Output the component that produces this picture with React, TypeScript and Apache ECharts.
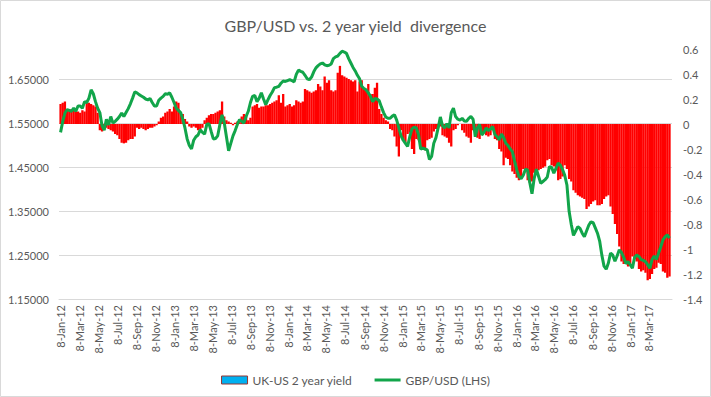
import React, { useEffect, useRef } from "react";
import * as echarts from "echarts";

// First weekly observation (8-Jan-12); one value per week after that
const firstObservation = "8-Jan-12";

const tickLabels = [
  "8-Jan-12", "8-Mar-12", "8-May-12", "8-Jul-12", "8-Sep-12", "8-Nov-12",
  "8-Jan-13", "8-Mar-13", "8-May-13", "8-Jul-13", "8-Sep-13", "8-Nov-13",
  "8-Jan-14", "8-Mar-14", "8-May-14", "8-Jul-14", "8-Sep-14", "8-Nov-14",
  "8-Jan-15", "8-Mar-15", "8-May-15", "8-Jul-15", "8-Sep-15", "8-Nov-15",
  "8-Jan-16", "8-Mar-16", "8-May-16", "8-Jul-16", "8-Sep-16", "8-Nov-16",
  "8-Jan-17", "8-Mar-17",
];

const leftTicks = [1.15, 1.25, 1.35, 1.45, 1.55, 1.65];

// UK-US 2 year yield spread (RHS), weekly
const spreadValues = [
  0.16, 0.17, 0.18, 0.11, 0.11, 0.12, 0.11, 0.10, 0.10, 0.09,
  0.11, 0.10, 0.17, 0.17, 0.16, 0.15, 0.14, 0.09, -0.05, -0.06,
  -0.02, -0.03, -0.04, -0.05, -0.06, -0.08, -0.09, -0.12, -0.15, -0.155,
  -0.15, -0.13, -0.12, -0.12, -0.10, -0.03, -0.04, -0.03, -0.04, -0.05,
  -0.04, -0.03, -0.03, -0.02, -0.01, 0.02, 0.05, 0.06, 0.09, 0.10,
  0.12, 0.10, 0.14, 0.18, 0.17, 0.09, 0.08, 0.04, 0.02, -0.02,
  -0.03, -0.02, -0.03, -0.05, -0.04, -0.03, 0.03, 0.05, 0.07, 0.08,
  0.08, 0.09, 0.10, 0.11, 0.18, 0.06, 0.03, 0.02, 0.01, -0.01,
  0.01, 0.02, 0.03, 0.06, 0.08, 0.07, 0.03, 0.05, 0.14, 0.15,
  0.16, 0.13, 0.14, 0.14, 0.15, 0.15, 0.16, 0.17, 0.18, 0.19,
  0.23, 0.17, 0.24, 0.14, 0.15, 0.16, 0.14, 0.15, 0.19, 0.18,
  0.17, 0.18, 0.28, 0.27, 0.26, 0.25, 0.26, 0.27, 0.32, 0.30,
  0.27, 0.38, 0.33, 0.35, 0.27, 0.26, 0.27, 0.41, 0.465, 0.39,
  0.38, 0.37, 0.36, 0.35, 0.34, 0.35, 0.26, 0.34, 0.35, 0.28,
  0.27, 0.32, 0.24, 0.24, 0.29, 0.33, 0.12, 0.08, 0.05, 0.03,
  0.02, -0.04, -0.05, -0.10, -0.18, -0.26, -0.05, -0.12, -0.15, -0.08,
  -0.07, -0.20, -0.24, -0.12, -0.13, -0.20, -0.19, -0.21, -0.13, -0.12,
  -0.11, -0.06, -0.04, -0.03, -0.02, -0.09, -0.10, -0.11, -0.15, -0.18,
  -0.05, -0.04, -0.01, 0.0, -0.05, -0.07, -0.10, -0.11, -0.15, -0.05,
  -0.06, -0.11, -0.12, -0.08, -0.07, -0.09, -0.10, -0.09, -0.05, -0.12,
  -0.13, -0.20, -0.22, -0.33, -0.27, -0.28, -0.33, -0.38, -0.40, -0.43,
  -0.45, -0.44, -0.36, -0.37, -0.45, -0.47, -0.46, -0.39, -0.38, -0.37,
  -0.36, -0.35, -0.34, -0.29, -0.28, -0.33, -0.34, -0.37, -0.45, -0.44,
  -0.42, -0.33, -0.36, -0.44, -0.46, -0.53, -0.55, -0.57, -0.58, -0.59,
  -0.60, -0.68, -0.66, -0.64, -0.62, -0.61, -0.65, -0.65, -0.64, -0.60,
  -0.58, -0.57, -0.66, -0.72, -0.80, -0.88, -0.98, -1.10, -1.12, -1.12,
  -1.14, -1.13, -1.06, -1.08, -1.10, -1.16, -1.18, -1.17, -1.19, -1.25,
  -1.24, -1.20, -1.16, -1.15, -1.11, -1.12, -1.18, -1.19, -1.23, -1.22,
];

// GBP/USD (LHS), weekly
const gbpusdValues = [
  1.530, 1.555, 1.574, 1.582, 1.580, 1.578, 1.585, 1.578, 1.590, 1.590,
  1.585, 1.600, 1.598, 1.608, 1.627, 1.618, 1.600, 1.585, 1.575, 1.545,
  1.535, 1.560, 1.547, 1.566, 1.551, 1.555, 1.560, 1.566, 1.574, 1.566,
  1.575, 1.584, 1.595, 1.608, 1.622, 1.620, 1.616, 1.613, 1.610, 1.606,
  1.604, 1.607, 1.598, 1.590, 1.590, 1.603, 1.608, 1.612, 1.618, 1.617,
  1.620, 1.610, 1.598, 1.585, 1.580, 1.575, 1.560, 1.540, 1.515, 1.500,
  1.492, 1.512, 1.520, 1.524, 1.536, 1.530, 1.526, 1.548, 1.550, 1.532,
  1.515, 1.516, 1.522, 1.548, 1.570, 1.552, 1.520, 1.488, 1.505, 1.522,
  1.534, 1.548, 1.559, 1.555, 1.551, 1.566, 1.578, 1.598, 1.612, 1.614,
  1.600, 1.608, 1.620, 1.606, 1.593, 1.604, 1.614, 1.622, 1.632, 1.633,
  1.635, 1.642, 1.647, 1.646, 1.648, 1.650, 1.648, 1.645, 1.662, 1.672,
  1.669, 1.667, 1.660, 1.652, 1.650, 1.656, 1.668, 1.677, 1.682, 1.686,
  1.688, 1.684, 1.682, 1.683, 1.686, 1.698, 1.702, 1.704, 1.710, 1.715,
  1.713, 1.710, 1.698, 1.688, 1.678, 1.670, 1.660, 1.652, 1.635, 1.630,
  1.627, 1.620, 1.612, 1.600, 1.607, 1.606, 1.602, 1.588, 1.575, 1.565,
  1.562, 1.562, 1.567, 1.570, 1.558, 1.540, 1.522, 1.512, 1.505, 1.498,
  1.520, 1.538, 1.542, 1.540, 1.525, 1.492, 1.494, 1.492, 1.490, 1.468,
  1.475, 1.505, 1.518, 1.540, 1.565, 1.545, 1.540, 1.550, 1.540, 1.575,
  1.585, 1.566, 1.560, 1.558, 1.562, 1.556, 1.555, 1.562, 1.566, 1.560,
  1.520, 1.540, 1.548, 1.524, 1.530, 1.540, 1.534, 1.538, 1.543, 1.525,
  1.520, 1.513, 1.526, 1.518, 1.505, 1.500, 1.492, 1.486, 1.465, 1.445,
  1.430, 1.424, 1.432, 1.446, 1.444, 1.415, 1.390, 1.425, 1.446, 1.430,
  1.414, 1.418, 1.422, 1.428, 1.452, 1.450, 1.437, 1.448, 1.460, 1.455,
  1.445, 1.432, 1.410, 1.350, 1.320, 1.295, 1.305, 1.315, 1.311, 1.300,
  1.292, 1.305, 1.318, 1.326, 1.324, 1.312, 1.300, 1.282, 1.250, 1.225,
  1.218, 1.232, 1.255, 1.250, 1.236, 1.248, 1.262, 1.256, 1.245, 1.231,
  1.235, 1.228, 1.220, 1.245, 1.250, 1.247, 1.240, 1.238, 1.235, 1.228,
  1.220, 1.240, 1.248, 1.240, 1.255, 1.269, 1.285, 1.292, 1.296, 1.289,
];

const MONTHS = ["Jan", "Feb", "Mar", "Apr", "May", "Jun", "Jul", "Aug", "Sep", "Oct", "Nov", "Dec"];
const DAY = 86400000;

function parseLabel(s: string): number {
  const [d, m, y] = s.split("-");
  return Date.UTC(2000 + Number(y), MONTHS.indexOf(m), Number(d)) / DAY;
}

const FONT = "Lato, 'Open Sans', sans-serif";
const TEXT = "#595959";
const GREEN = "#12A54A";

export default function App() {
  const ref = useRef<HTMLDivElement>(null);

  useEffect(() => {
    if (!ref.current) return;
    const chart = echarts.init(ref.current, undefined, { renderer: "svg" });

    // x positions are day numbers (days since 1970-01-01, UTC)
    const firstDay = parseLabel(firstObservation);
    const weekDays = spreadValues.map((_, i) => firstDay + 7 * i);
    const tickDays = tickLabels.map((l) => parseLabel(l));
    const labelByDay = new Map<number, string>();
    tickDays.forEach((t, i) => labelByDay.set(t, tickLabels[i]));

    chart.setOption({
      animation: false,
      backgroundColor: "#ffffff",
      title: {
        text: "GBP/USD vs. 2 year yield  divergence",
        left: "center",
        top: 12,
        textStyle: { fontFamily: FONT, fontSize: 16, fontWeight: "normal", color: TEXT },
      },
      legend: {
        top: 369,
        left: "center",
        itemWidth: 26,
        itemHeight: 8,
        itemGap: 22,
        symbolKeepAspect: true,
        textStyle: { fontFamily: FONT, fontSize: 12, color: TEXT },
        data: [
          {
            name: "UK-US 2 year yield",
            icon: "rect",
            itemStyle: { color: "#00B0F0", borderColor: "#943634", borderWidth: 1 },
          },
          {
            name: "GBP/USD (LHS)",
            icon: "path://M0,0L26,0L26,3L0,3Z",
            itemStyle: { color: GREEN, borderWidth: 0 },
          },
        ],
      },
      grid: { left: 59, right: 39, top: 49, bottom: 98 },
      xAxis: {
        type: "value",
        min: parseLabel("3-Jan-12"),
        max: parseLabel("22-May-17"),
        axisLine: { show: true, onZero: false, lineStyle: { color: "#D9D9D9" } },
        axisTick: { show: false, customValues: tickDays },
        splitLine: { show: false },
        axisLabel: {
          customValues: tickDays,
          rotate: 90,
          margin: 6,
          hideOverlap: false,
          fontFamily: FONT,
          fontSize: 11,
          color: TEXT,
          formatter: (v: number) => labelByDay.get(Math.round(v)) ?? "",
        },
      },
      yAxis: [
        {
          type: "value",
          min: 1.15,
          max: 1.72,
          interval: 0.1,
          axisLine: { show: false },
          axisTick: { show: false },
          splitLine: { show: true, showMaxLine: false, lineStyle: { color: "#D9D9D9" } },
          axisLabel: {
            showMaxLabel: false,
            margin: 10,
            fontFamily: FONT,
            fontSize: 11,
            color: TEXT,
            formatter: (v: number) => {
              const hit = leftTicks.find((t) => Math.abs(t - v) < 1e-6);
              return hit !== undefined ? hit.toFixed(5) : "";
            },
          },
        },
        {
          type: "value",
          min: -1.4,
          max: 0.6,
          interval: 0.2,
          axisLine: { show: false },
          axisTick: { show: false },
          splitLine: { show: false },
          axisLabel: {
            margin: 11,
            fontFamily: FONT,
            fontSize: 11,
            color: TEXT,
            formatter: (v: number) => String(Math.round(v * 10) / 10),
          },
        },
      ],
      series: [
        {
          name: "UK-US 2 year yield",
          type: "bar",
          yAxisIndex: 1,
          barWidth: 2.3,
          itemStyle: { color: "#FF0000" },
          data: weekDays.map((t, i) => [t, spreadValues[i]]),
        },
        {
          name: "GBP/USD (LHS)",
          type: "line",
          yAxisIndex: 0,
          symbol: "none",
          lineStyle: { color: GREEN, width: 3 },
          itemStyle: { color: GREEN },
          data: weekDays.map((t, i) => [t, gbpusdValues[i]]),
        },
      ],
      graphic: [
        {
          type: "rect",
          shape: { x: 0.5, y: 0.5, width: 710, height: 396 },
          style: { fill: "none", stroke: "#D9D9D9", lineWidth: 1 },
          silent: true,
        },
      ],
    });

    return () => chart.dispose();
  }, []);

  return (
    <div
      ref={ref}
      style={{ position: "fixed", left: 0, top: 0, width: 711, height: 397, background: "#fff" }}
    />
  );
}
